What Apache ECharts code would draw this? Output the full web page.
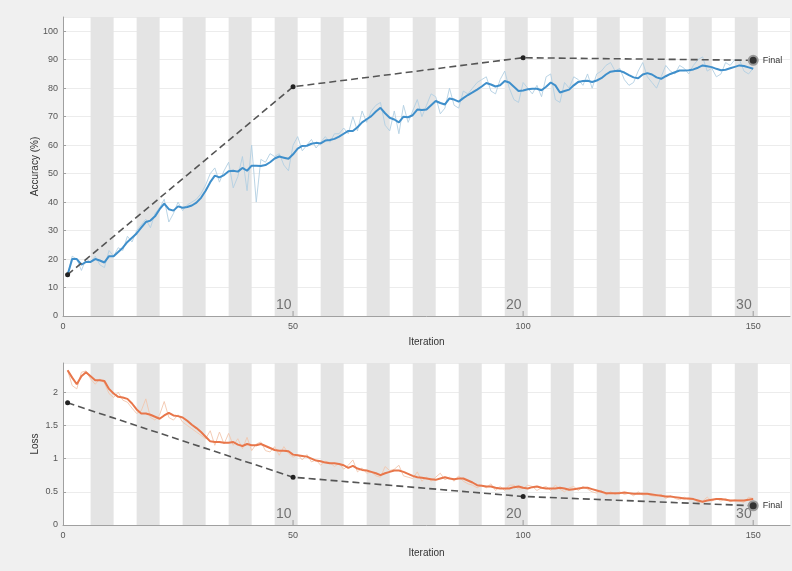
<!DOCTYPE html>
<html><head><meta charset="utf-8">
<script src="https://cdn.jsdelivr.net/npm/echarts@6/dist/echarts.min.js"></script>
<style>html,body{margin:0;padding:0;background:#f0f0f0}#c{width:792px;height:571px}</style>
</head><body><div id="c"></div>
<script>
const accSmooth = [14.5,20,20,18,19,19,20,19.5,18.8,21,21,22.5,24,26,27.5,29,31,33,33.5,35,37.5,39.5,37.5,37,38.5,38,38.3,38.8,39.8,41.5,44,47,49.3,48.7,49.5,50.8,51,50.7,52,51,52.8,52.8,52.7,53,54,55.3,56,55.6,55.2,56.8,58.8,59.7,59.8,60.5,60.8,60.6,61.6,61.8,62.2,63,64,65,65,66.3,68,69.1,70.2,71.8,73.1,71.2,69.6,69,68,70,69.8,70.5,72.5,72.3,72.5,74,75.5,74.8,74.3,76.4,76,75.3,76.5,77.6,78.5,79.5,80.6,81.8,81.3,80.6,81,82.5,82,80.5,79,79.2,79.6,79.8,79.8,79.3,80.5,82,81,78.5,79,79.5,81,82.2,82.5,82.6,82.2,82.7,83.5,84.8,85.8,86,86.1,85.5,84.6,83.8,83.5,84.8,85.3,84.8,83.8,83.3,84.2,85,85.6,86.2,86.2,86.3,86.6,87.2,88,87.7,87.4,86.8,86.3,86.5,87,87.5,88,87.8,87.3,86.8];
const accRaw = [14.5,21,20,16,20,19,21,18,17,23,21,24,23,28,26,30,32,34,31,36,38,41,33,36,40,37,39,40,41,43,46,50,52,47,51,54,45,49,56,44,60,40,55,54,57,56,57,53,51,60,63,58,60,62,59,61,63,61,64,64,66,64,70,65,72,68,72,74,75,67,65,72,64,74,68,72,76,70,74,78,77,71,73,80,74,73,79,78,80,82,83,84,79,78,83,86,80,76,75,82,80,78,81,77,84,85,76,75,82,80,84,83,81,85,80,85,86,88,89,86,87,83,81,82,86,89,84,82,80,84,88,86,85,88,87,85,88,90,91,86,87,84,85,89,88,90,90,86,85,87];
const lossSmooth = [2.33,2.22,2.12,2.24,2.30,2.24,2.18,2.18,2.17,2.05,1.98,1.93,1.92,1.90,1.83,1.74,1.68,1.68,1.66,1.63,1.60,1.65,1.69,1.65,1.64,1.62,1.57,1.51,1.46,1.40,1.33,1.26,1.25,1.25,1.24,1.24,1.25,1.21,1.19,1.22,1.20,1.20,1.22,1.19,1.16,1.13,1.12,1.12,1.11,1.06,1.05,1.04,1.03,1.00,0.97,0.96,0.94,0.93,0.93,0.92,0.90,0.86,0.89,0.85,0.83,0.82,0.80,0.78,0.75,0.78,0.80,0.82,0.82,0.80,0.77,0.74,0.72,0.71,0.70,0.69,0.68,0.70,0.72,0.70,0.69,0.70,0.70,0.67,0.64,0.60,0.59,0.58,0.58,0.56,0.55,0.55,0.55,0.57,0.58,0.56,0.55,0.57,0.58,0.56,0.55,0.55,0.55,0.56,0.55,0.53,0.54,0.55,0.56,0.56,0.54,0.52,0.50,0.48,0.48,0.48,0.48,0.49,0.48,0.47,0.47,0.47,0.47,0.46,0.45,0.44,0.43,0.43,0.42,0.41,0.40,0.40,0.39,0.37,0.35,0.37,0.38,0.39,0.39,0.38,0.37,0.37,0.37,0.37,0.38,0.39];
const lossRaw = [2.33,2.10,2.05,2.30,2.32,2.20,2.12,2.20,2.14,1.98,1.92,2.00,1.88,1.85,1.76,1.68,1.72,1.90,1.62,1.58,1.66,1.86,1.62,1.58,1.66,1.55,1.50,1.45,1.40,1.35,1.30,1.42,1.20,1.40,1.22,1.38,1.20,1.30,1.15,1.32,1.12,1.22,1.25,1.12,1.10,1.18,1.05,1.18,1.08,1.02,1.06,0.98,1.06,0.95,0.98,0.90,0.96,0.94,0.88,0.93,0.84,0.90,0.98,0.80,0.86,0.78,0.80,0.74,0.72,0.88,0.82,0.84,0.90,0.74,0.72,0.70,0.80,0.66,0.72,0.66,0.72,0.78,0.68,0.72,0.66,0.74,0.66,0.62,0.60,0.56,0.60,0.56,0.62,0.52,0.58,0.52,0.60,0.60,0.54,0.55,0.60,0.58,0.52,0.56,0.58,0.52,0.60,0.54,0.50,0.56,0.58,0.52,0.58,0.54,0.50,0.48,0.52,0.45,0.50,0.46,0.50,0.46,0.48,0.44,0.50,0.45,0.46,0.44,0.43,0.46,0.40,0.44,0.40,0.38,0.42,0.38,0.40,0.34,0.36,0.42,0.36,0.40,0.36,0.40,0.35,0.38,0.36,0.34,0.42,0.40];
const valIters = [1,50,100,150];
const accVal = [14.5,80.5,90.7,89.8];
const lossVal = [1.84,0.72,0.43,0.29];
const epochTicks = [50,100,150];
const epochLabels = ['10','20','30'];
const itersPerEpoch = 5;
const numEpochs = 30;

const pairs = arr => arr.map((v,i)=>[i+1,v]);
const stripes = [];
for (let k = 2; k <= numEpochs; k += 2) {
  stripes.push([{xAxis:(k-1)*itersPerEpoch+1},{xAxis:k*itersPerEpoch+1}]);
}
const FONT = 'Liberation Sans, Arial, sans-serif';
const tickColor = '#555';
function xAx(idx){
  return {gridIndex:idx,type:'value',min:0,max:158,interval:50,
    name:'Iteration',nameLocation:'middle',nameGap:idx===0?21:23,nameMoveOverlap:false,
    nameTextStyle:{fontSize:10,color:'#333',fontFamily:FONT},
    axisLine:{show:true,lineStyle:{color:'#a0a0a0',width:1}},
    axisTick:{show:false},splitLine:{show:false},
    axisLabel:{fontSize:9,color:tickColor,fontFamily:FONT,showMaxLabel:false,margin:6}};
}
function yAx(idx,max,interval,name){
  return {gridIndex:idx,type:'value',min:0,max:max,interval:interval,
    name:name,nameLocation:'middle',nameGap:23,nameMoveOverlap:false,
    nameTextStyle:{fontSize:10,color:'#333',fontFamily:FONT},
    axisLine:{show:true,lineStyle:{color:'#a0a0a0',width:1}},
    axisTick:{show:true,inside:true,length:3,lineStyle:{color:'#a0a0a0'}},
    splitLine:{show:true,lineStyle:{color:'#ececec',width:1}},
    axisLabel:{fontSize:9,color:tickColor,fontFamily:FONT,showMaxLabel:false,margin:5}};
}
function epochSeries(idx){
  return [{
    type:'scatter',xAxisIndex:idx,yAxisIndex:idx,silent:true,z:5,
    symbol:'rect',symbolSize:[1,5],symbolOffset:[0,-2.5],
    itemStyle:{color:'#888'},
    data:epochTicks.map((t,i)=>({value:[t,0],name:epochLabels[i]})),
    label:{show:true,position:'left',distance:1,offset:[0,-8],formatter:p=>p.name,
      fontSize:14,color:'#555',fontFamily:FONT}
  }];
}
function valSeries(idx,vals){
  return {
    type:'line',xAxisIndex:idx,yAxisIndex:idx,silent:true,z:6,
    data:valIters.map((t,i)=>{
      const last = i===valIters.length-1;
      return {value:[t,vals[i]],symbolSize:last?9:5,
        itemStyle:last?{color:'#333',borderColor:'#999',borderWidth:2}:{color:'#222'},
        label:last?{show:true,position:'right',distance:4,formatter:'Final',fontSize:9,color:'#333',fontFamily:FONT}:{show:false}};
    }),
    symbol:'circle',
    lineStyle:{color:'#555',width:1.6,type:[7,4]},
    itemStyle:{color:'#222'}
  };
}
const option = {
  backgroundColor:'#f0f0f0',
  animation:false,
  grid:[{left:63,right:2,top:17,height:299,show:true,backgroundColor:'#ffffff',borderWidth:0},
        {left:63,right:2,top:363,height:162,show:true,backgroundColor:'#ffffff',borderWidth:0}],
  xAxis:[xAx(0),xAx(1)],
  yAxis:[yAx(0,105,10,'Accuracy (%)'),yAx(1,2.44,0.5,'Loss')],
  series:[
    {type:'line',xAxisIndex:0,yAxisIndex:0,silent:true,z:2,data:pairs(accRaw),showSymbol:false,
     lineStyle:{color:'#b3cfe2',width:1,opacity:0.9},
     markArea:{silent:true,itemStyle:{color:'#e4e4e4'},data:stripes}},
    {type:'line',xAxisIndex:0,yAxisIndex:0,silent:true,z:3,data:pairs(accSmooth),showSymbol:false,
     lineStyle:{color:'#3f8fcb',width:2}},
    valSeries(0,accVal),
    ...epochSeries(0),
    {type:'line',xAxisIndex:1,yAxisIndex:1,silent:true,z:2,data:pairs(lossRaw),showSymbol:false,
     lineStyle:{color:'#f2c7ae',width:1,opacity:0.9},
     markArea:{silent:true,itemStyle:{color:'#e4e4e4'},data:stripes}},
    {type:'line',xAxisIndex:1,yAxisIndex:1,silent:true,z:3,data:pairs(lossSmooth),showSymbol:false,
     lineStyle:{color:'#e8764a',width:2}},
    valSeries(1,lossVal),
    ...epochSeries(1)
  ]
};
const chart = echarts.init(document.getElementById('c'),null,{renderer:'canvas'});
chart.setOption(option);
</script>
</body></html>
